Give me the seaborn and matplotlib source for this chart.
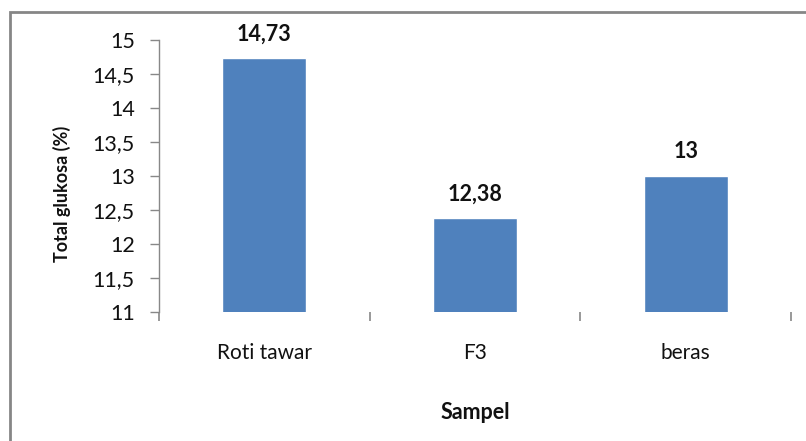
import matplotlib
matplotlib.use("Agg")
import matplotlib.pyplot as plt
import seaborn as sns
import pandas as pd
from matplotlib.patches import Rectangle

categories = ["Roti tawar", "F3", "beras"]
values = [14.73, 12.38, 13.0]
value_labels = ["14,73", "12,38", "13"]
yticks = [11, 11.5, 12, 12.5, 13, 13.5, 14, 14.5, 15]
ytick_labels = ["11", "11,5", "12", "12,5", "13", "13,5", "14", "14,5", "15"]

sns.set_theme(style="white")
plt.rcParams['font.family'] = ['Lato', 'DejaVu Sans']

df = pd.DataFrame({"Sampel": categories, "Total": values})

fig = plt.figure(figsize=(8.06, 4.41), dpi=100)
ax = fig.add_axes([159/806, 1-312/441, 632/806, 272/441])

sns.barplot(data=df, x="Sampel", y="Total", color="#4F81BD", width=0.4,
            saturation=1, ax=ax)

ax.set_ylim(11, 15)
ax.set_xlim(-0.5, 2.5)
ax.set_yticks(yticks)
ax.set_yticklabels(ytick_labels)

ax.set_xticks([0, 1, 2])
ax.set_xticklabels(categories)
ax.set_xticks([-0.5, 0.5, 1.5, 2.5], minor=True)
ax.tick_params(axis="x", which="major", length=0, pad=22, labelsize=15, labelcolor="#111111")
ax.tick_params(axis="x", which="minor", length=6.5, width=1.2, color="#888888", direction="out", bottom=True)
ax.tick_params(axis="y", which="major", length=6.5, width=1, color="#888888", direction="out",
               left=True, pad=11, labelsize=15.5, labelcolor="#111111")

for s in ["top", "right", "bottom"]:
    ax.spines[s].set_visible(False)
ax.spines["left"].set_color("#888888")
ax.spines["left"].set_linewidth(1)

ax.set_xlabel("Sampel", fontsize=15.5, fontweight="bold", color="#111111")
ax.set_ylabel("Total glukosa (%)", fontsize=13, fontweight="bold", color="#111111")
ax.xaxis.set_label_coords(0.5, -0.33)
ax.yaxis.set_label_coords(-0.14, 0.434)

ax.bar_label(ax.containers[0], labels=value_labels, padding=10, fontsize=15.5,
             fontweight="bold", color="#111111")

# outer chart frame (Excel style)
fig.patches.append(Rectangle((10/806, -0.2), 1.2, 1 - 12/441 + 0.2, transform=fig.transFigure,
                             fill=False, edgecolor="#868686", linewidth=2, clip_on=False))

fig.savefig("out.png", dpi=100, facecolor="white")
